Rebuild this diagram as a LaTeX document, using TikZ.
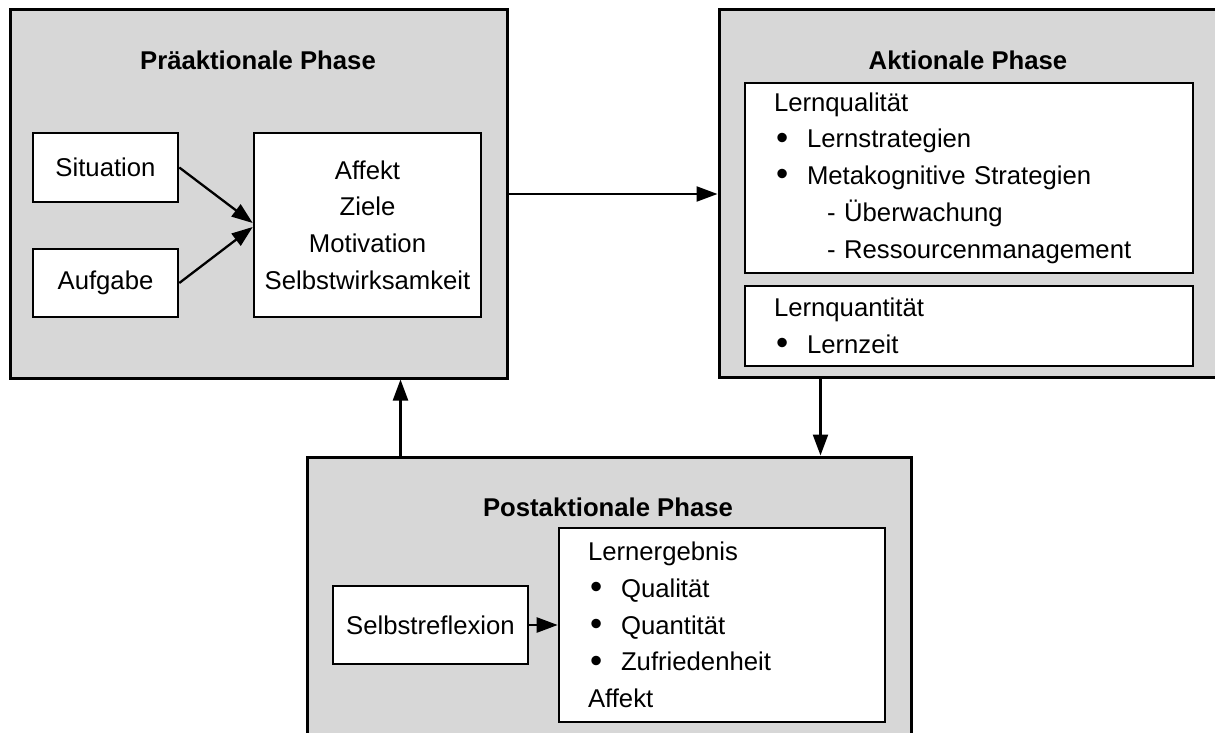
\documentclass[tikz,border=0pt]{standalone}
\usepackage{fontspec}
\usepackage{graphicx}
\setmainfont{Liberation Sans}
\usetikzlibrary{arrows.meta}
\definecolor{phasegray}{RGB}{215,215,215}
\tikzset{
  every node/.style={font=\fontsize{25.7}{36.7}\selectfont},
  phase/.style={draw, line width=3pt, fill=phasegray, inner sep=0pt},
  phasetitle/.style={font=\bfseries\fontsize{25.7}{30}\selectfont, inner sep=0pt},
  item/.style={draw, line width=2.6pt, fill=white, inner sep=0pt, align=center},
  listbox/.style={draw, line width=2.6pt, fill=white, inner xsep=29pt, inner ysep=0pt,
                  text width=#1, align=left},
  conn/.style={line width=2.3pt, -{Triangle[length=21pt,width=15pt]}}
}
\newcommand{\bulletline}[1]{\makebox[33pt][l]{\hspace{2pt}\raisebox{-1.2pt}{\scalebox{1.35}{•}}}#1}
\newcommand{\dashline}[1]{\hspace{53pt}- #1}
\begin{document}
\begin{tikzpicture}[x=1pt,y=-1pt]
  \useasboundingbox (0,0) rectangle (1215,733);
  \clip (0,0) rectangle (1215,733);

  % phase frames
  \node[phase, minimum width=497pt, minimum height=368pt] (pre) at (258.5,194) {};
  \node[phase, minimum width=511pt, minimum height=367pt] (akt) at (974.5,193.5) {};
  \node[phase, minimum width=604pt, minimum height=303pt] (post) at (609,608.5) {};

  % titles
  \node[phasetitle] (pretitle) at (258,60) {Präaktionale Phase};
  \node[phasetitle] (akttitle) at (968,60) {Aktionale Phase};
  \node[phasetitle] (posttitle) at (608,507) {Postaktionale Phase};

  % preactional phase
  \node[item, minimum width=145pt, minimum height=69pt] (sit) at (105.5,167.5) {Situation};
  \node[item, minimum width=145pt, minimum height=68pt] (auf) at (105.5,283) {Aufgabe};
  \node[item, minimum width=227pt, minimum height=184pt] (aff) at (367.5,225)
    {Affekt\\Ziele\\Motivation\\Selbstwirksamkeit};

  % actional phase
  \node[listbox=390pt, minimum height=190pt] (qual) at (969,178)
    {Lernqualität\\
     \bulletline{Lernstrategien}\\
     \bulletline{Metakognitive Strategien}\\
     \dashline{Überwachung}\\
     \dashline{Ressourcenmanagement}};
  \node[listbox=390pt, minimum height=80pt] (quant) at (969,326)
    {Lernquantität\\
     \bulletline{Lernzeit}};

  % postactional phase
  \node[item, minimum width=195pt, minimum height=78pt] (refl) at (430.5,625) {Selbstreflexion};
  \node[listbox=268pt, minimum height=194pt] (erg) at (722,625)
    {Lernergebnis\\
     \bulletline{Qualität}\\
     \bulletline{Quantität}\\
     \bulletline{Zufriedenheit}\\
     Affekt};

  % connectors
  \draw[conn] (sit.east) -- ([yshift=2pt]aff.west);
  \draw[conn] (auf.east) -- ([yshift=-2pt]aff.west);
  \draw[conn] (pre.east) -- (pre.east -| akt.west);
  \draw[conn] ([xshift=103pt]akt.south west) -- ([xshift=103pt]akt.south west |- post.north);
  \draw[conn] ([xshift=95pt]post.north west) -- ([xshift=95pt]post.north west |- pre.south);
  \draw[conn] (refl.east) -- (erg.west);
\end{tikzpicture}
\end{document}
